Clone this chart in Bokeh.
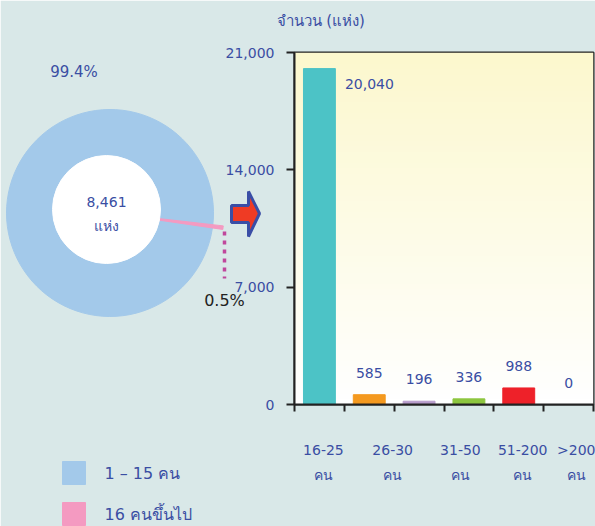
import numpy as np
from bokeh.plotting import figure
from bokeh.models import Range1d, FixedTicker, NumeralTickFormatter
from bokeh.core.properties import value
from bokeh.embed import file_html
from bokeh.resources import INLINE

# ---------------- data ----------------
bar_values = [20040, 585, 196, 336, 988, 0]
bar_colors = ["#4cc3c6", "#f4991f", "#b79ccb", "#8dc63f", "#ee2129", "#cccccc"]
x_tick_labels = ["16-25\nคน", "26-30\nคน", "31-50\nคน", "51-200\nคน", ">200\nคน"]
y_ticks = [0, 7000, 14000, 21000]
y_title = "จำนวน (แห่ง)"

share_labels = ["1 – 15 คน", "16 คนขึ้นไป"]
share_pct = [99.4, 0.5]
share_colors = ["#a3c9ea", "#f49ac1"]
total_places = 8461
total_unit = "แห่ง"

# ---------------- style ----------------
FONT = "DejaVu Sans"
BLUE = "#3a4ea3"
BG = "#d9e8e8"

p = figure(width=595, height=526, x_range=Range1d(0, 6), y_range=Range1d(0, 21000),
           output_backend="svg", toolbar_location=None,
           min_border_left=294, min_border_right=2, min_border_top=52, min_border_bottom=122,
           border_fill_color=BG, background_fill_color="white",
           outline_line_color="#222222", outline_line_width=2)

# page-pixel coordinate system for decorations (frame spans page x 294..593, y 52..404)
p.extra_x_ranges = {"px": Range1d(294, 593)}
p.extra_y_ranges = {"py": Range1d(404, 52)}

# gradient background of the bar area
n = 64
t = np.linspace(0, 1, n)  # 0 bottom -> 1 top
top = np.array([252, 248, 206]); bot = np.array([255, 255, 255])
cols = (bot[None, :] * (1 - t[:, None]) + top[None, :] * t[:, None]).astype(np.uint32)
img = np.empty((n, 1), dtype=np.uint32)
img[:, 0] = (255 << 24) | (cols[:, 2] << 16) | (cols[:, 1] << 8) | cols[:, 0]
p.image_rgba(image=[img], x=0, y=0, dw=6, dh=21000)

# grid
p.xgrid.visible = False
p.ygrid.ticker = FixedTicker(ticks=y_ticks[1:-1])
p.ygrid.grid_line_color = "#444444"
p.ygrid.grid_line_dash = "7 6"
p.ygrid.grid_line_width = 1.5

# bars
xc = np.arange(len(bar_values)) + 0.5
p.vbar(x=xc, top=bar_values, width=0.64, color=bar_colors)

# value labels
lab = [f"{v:,}" for v in bar_values]
p.text(x=xc[:1], y=bar_values[:1], text=lab[:1], x_offset=50, y_offset=15,
       text_font=value(FONT), text_font_size="14px", text_color=BLUE,
       text_align="center", text_baseline="middle")
p.text(x=xc[1:], y=bar_values[1:], text=lab[1:], y_offset=-22,
       text_font=value(FONT), text_font_size="14px", text_color=BLUE,
       text_align="center", text_baseline="middle")

# y axis
ya = p.yaxis[0]
ya.ticker = FixedTicker(ticks=y_ticks)
ya.formatter = NumeralTickFormatter(format="0,0")
ya.axis_line_color = "#222222"; ya.axis_line_width = 2
ya.major_tick_line_color = "#222222"; ya.major_tick_line_width = 2
ya.major_tick_out = 8; ya.major_tick_in = 0
ya.minor_tick_line_color = None
ya.major_label_standoff = 12
ya.major_label_text_font = FONT
ya.major_label_text_font_size = "14px"
ya.major_label_text_color = BLUE

# x axis: labels at their own spots, boundary tick marks as minor ticks
label_pos = [0.58, 1.97, 3.33, 4.58, 5.66]
xa = p.xaxis[0]
xa.ticker = FixedTicker(ticks=label_pos, minor_ticks=list(range(len(bar_values) + 1)))
xa.major_label_overrides = {pos: lbl for pos, lbl in zip(label_pos, x_tick_labels)}
xa.axis_line_color = "#222222"; xa.axis_line_width = 2
xa.major_tick_line_color = None
xa.major_tick_out = 0; xa.major_tick_in = 0
xa.minor_tick_line_color = "#222222"; xa.minor_tick_line_width = 2
xa.minor_tick_out = 7; xa.minor_tick_in = 0
xa.major_label_standoff = 30
xa.major_label_text_font = FONT
xa.major_label_text_font_size = "14px"
xa.major_label_text_color = BLUE
xa.major_label_text_line_height = 1.6

# ---------------- donut (page-pixel coords) ----------------
dk = dict(x_range_name="px", y_range_name="py", level="overlay")
cx, cy, R = 109.5, 212.5, 103.5
spans = np.array(share_pct) / sum(share_pct) * 2 * np.pi
pink_mid = np.deg2rad(-7.4)
p_start = pink_mid - spans[1] / 2
p_end = pink_mid + spans[1] / 2
p.wedge(x=[cx], y=[cy], radius=R, radius_units="screen",
        start_angle=p_end, end_angle=p_end + spans[0], color=share_colors[0], **dk)
p.annular_wedge(x=[cx], y=[cy], inner_radius=40, outer_radius=114,
                inner_radius_units="screen", outer_radius_units="screen",
                start_angle=p_start, end_angle=p_end, color=share_colors[1], **dk)
# donut hole
p.wedge(x=[106], y=[209], radius=54, radius_units="screen",
        start_angle=0, end_angle=2 * np.pi, color="white", **dk)

tk = dict(text_font=value(FONT), text_align="center", text_baseline="middle", **dk)
p.text(x=[106, 106], y=[201, 225], text=[f"{total_places:,}", total_unit],
       text_font_size="14px", text_color=BLUE, **tk)
p.text(x=[73.5], y=[71], text=[f"{share_pct[0]}%"], text_font_size="15px",
       text_color=BLUE, **tk)
p.text(x=[224], y=[300], text=[f"{share_pct[1]}%"], text_font_size="16px",
       text_color="#222222", **tk)

# dotted leader
p.line(x=[224, 224], y=[231, 278], line_color="#c0479c", line_width=3.5, line_dash="4 5", **dk)

# block arrow
p.patch(x=[231, 248, 248, 259, 248, 248, 231], y=[205, 205, 191, 213, 236, 222, 222],
        fill_color="#ef3b24", line_color="#3a4ea6", line_width=3, **dk)

# title
p.text(x=[276], y=[20], text=[y_title], text_font_size="15px", text_color=BLUE,
       text_font=value(FONT), text_align="left", text_baseline="middle", **dk)

# legend
leg_y = [472.5, 513.5]
p.rect(x=[73.5, 73.5], y=leg_y, width=23, height=23, width_units="screen",
       height_units="screen", color=share_colors, **dk)
p.text(x=[104, 104], y=leg_y, text=share_labels, text_font_size="16px", text_color=BLUE,
       text_font=value(FONT), text_align="left", text_baseline="middle", **dk)

open("out.html", "w").write(file_html(p, INLINE))
